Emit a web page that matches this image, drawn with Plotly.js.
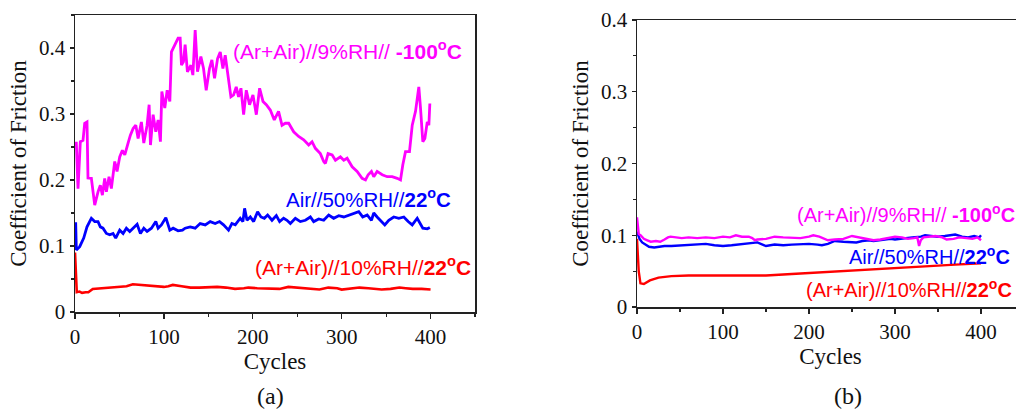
<!DOCTYPE html>
<html>
<head>
<meta charset="utf-8">
<script src="https://cdn.plot.ly/plotly-3.0.1.min.js"></script>
<style>
html,body{margin:0;padding:0;background:#fff;overflow:hidden;width:1016px;height:411px;}
#chart{width:1040px;height:411px;}
</style>
</head>
<body>
<div id="chart"></div>
<script>
// ---- Panel (a) data ----
const aMagX = [0,1.5,3.4,6,9,10.9,13.5,14.6,18.4,22.2,25.9,28.5,30.8,33.4,35.3,38.3,40.9,44.7,47.3,50.3,53.3,56,59.7,62.3,65.4,68.4,71,74.7,77.4,81.1,83.4,84.9,87.9,90.9,93.5,96.1,97.7,101,103.7,106.7,108.5,112.3,116,118.3,119.8,122,123.9,126.5,130.4,132.6,135.2,137.8,141.6,144.6,147.6,151.3,154,157,160.4,163.4,166.4,169,171.6,175.4,178.4,181.4,184,186.7,189.7,192.7,196.4,200.2,204,207.7,211.5,215.2,219.7,224.2,229,232.9,236.6,240.4,246,251.6,257.3,262.9,266.7,270.4,276,279.8,281.7,284.7,289.3,293,298.6,302.4,306.1,311.8,317.4,323,326.8,329.8,333.5,336.1,339.9,345.6,351.2,356.8,362.5,366.2,368.8,371.8,376.3,379.4,383.1,386.8,388.7,391.3,393.6,396.3,398.1,399.2];
const aMagY = [0.256,0.256,0.187,0.258,0.26,0.286,0.288,0.203,0.2025,0.162,0.182,0.192,0.177,0.2025,0.182,0.205,0.187,0.228,0.213,0.235,0.245,0.238,0.256,0.268,0.278,0.283,0.263,0.288,0.256,0.283,0.314,0.253,0.299,0.273,0.291,0.258,0.334,0.309,0.336,0.319,0.394,0.405,0.415,0.415,0.374,0.379,0.405,0.364,0.374,0.359,0.427,0.364,0.387,0.369,0.336,0.369,0.382,0.354,0.384,0.394,0.369,0.389,0.364,0.326,0.329,0.341,0.326,0.339,0.299,0.336,0.314,0.329,0.299,0.339,0.319,0.314,0.306,0.291,0.304,0.283,0.286,0.286,0.273,0.266,0.261,0.253,0.258,0.248,0.240,0.228,0.225,0.240,0.238,0.23,0.235,0.23,0.233,0.220,0.213,0.2025,0.2,0.208,0.213,0.205,0.213,0.208,0.205,0.205,0.2025,0.2,0.223,0.243,0.243,0.283,0.304,0.341,0.309,0.258,0.263,0.288,0.283,0.316];
const aBlueX = [0,0.8,1.5,5.3,9.8,13.5,18.4,22.2,25.9,28.5,31.5,35.3,39.1,42.8,45.8,50.3,54.1,57.8,61.6,65.4,69.9,73.6,77.4,81.1,86,90.9,93.5,97.2,102.2,106.7,110.4,116,120.9,123.9,129.6,135.2,140.8,146.5,152.1,157.7,162.6,167.1,172.7,176.5,180.3,185.9,188.9,190.8,193.5,197.2,201,205.4,209.2,213,216.7,221.6,226.5,230.2,234.7,238.5,242.3,247.9,253.5,259.2,264.8,268.5,274.2,279.8,285.4,291,296.7,302.4,308,315.5,319.2,323.7,328.7,333.5,336.1,339.9,344.8,348.5,353,358.6,364.3,369.9,374.8,379.4,385,388.7,391.3,396.3,399.2];
const aBlueY = [0.134,0.134,0.094,0.099,0.112,0.129,0.142,0.137,0.137,0.129,0.127,0.119,0.117,0.119,0.112,0.124,0.119,0.127,0.122,0.127,0.133,0.119,0.127,0.122,0.127,0.137,0.127,0.132,0.143,0.124,0.127,0.123,0.124,0.127,0.129,0.127,0.134,0.132,0.137,0.134,0.137,0.132,0.124,0.134,0.132,0.142,0.137,0.157,0.139,0.144,0.137,0.152,0.144,0.142,0.147,0.139,0.146,0.137,0.142,0.139,0.134,0.142,0.137,0.139,0.144,0.137,0.141,0.139,0.147,0.142,0.146,0.144,0.147,0.150,0.152,0.144,0.147,0.139,0.150,0.144,0.137,0.132,0.139,0.144,0.142,0.144,0.137,0.132,0.142,0.134,0.127,0.126,0.128];
const aRedX = [0,1,2,5,8,12,15,20,30,40,50,58,65,72,80,90,100,105,110,120,130,140,150,160,170,180,190,195,205,220,230,240,250,260,275,285,295,300,310,320,330,345,355,365,372,380,390,400];
const aRedY = [0.09,0.05,0.03,0.031,0.029,0.03,0.03,0.035,0.036,0.037,0.038,0.039,0.042,0.041,0.04,0.039,0.038,0.039,0.041,0.039,0.037,0.037,0.038,0.038,0.037,0.035,0.036,0.037,0.036,0.035,0.035,0.038,0.037,0.035,0.034,0.037,0.036,0.034,0.035,0.037,0.036,0.034,0.035,0.037,0.036,0.035,0.035,0.034];

// ---- Panel (b) data ----
const bMagX = [0,2,4,8,12,16,22,27,32,36,39,45,52,60,70,80,90,100,108,115,122,130,134,137,140,150,160,170,180,190,200,205,212,218,222,230,240,250,258,265,270,275,283,290,300,308,315,322,326,328,330,333,340,347,355,360,368,375,383,390,396,400];
const bMagY = [0.125,0.102,0.1,0.095,0.093,0.091,0.092,0.091,0.094,0.097,0.098,0.097,0.096,0.097,0.096,0.097,0.096,0.098,0.097,0.1,0.098,0.098,0.096,0.093,0.094,0.095,0.098,0.097,0.096,0.096,0.098,0.1,0.098,0.095,0.093,0.094,0.095,0.099,0.097,0.096,0.095,0.093,0.094,0.096,0.098,0.097,0.095,0.096,0.097,0.085,0.093,0.097,0.098,0.099,0.097,0.094,0.095,0.097,0.096,0.095,0.097,0.093];
const bBlueX = [0,3,6,10,14,20,26,32,40,50,60,70,80,90,100,110,120,130,140,146,150,160,170,180,190,200,210,215,222,230,240,250,255,262,270,275,285,295,300,310,320,330,335,342,350,358,365,370,378,385,392,398,400];
const bBlueY = [0.105,0.095,0.09,0.087,0.084,0.083,0.084,0.085,0.085,0.086,0.087,0.087,0.088,0.086,0.085,0.086,0.087,0.088,0.09,0.087,0.085,0.087,0.086,0.087,0.088,0.088,0.087,0.086,0.088,0.092,0.091,0.090,0.090,0.092,0.093,0.092,0.094,0.095,0.094,0.096,0.097,0.098,0.1,0.099,0.098,0.099,0.1,0.101,0.098,0.097,0.099,0.097,0.1];
const bRedX = [0,2,4,8,15,25,40,60,100,150,180,220,260,300,340,370,400];
const bRedY = [0.095,0.05,0.033,0.032,0.037,0.041,0.043,0.044,0.044,0.044,0.046,0.049,0.052,0.055,0.057,0.059,0.061];

const yTicks = [0,0.1,0.2,0.3,0.4];
const yTickText = ['0','0.1','0.2','0.3','0.4'];
const xTicks = [0,100,200,300,400];

const labels = {
  mag: '(Ar+Air)//9%RH// <b>-100<sup>o</sup>C</b>',
  blue: 'Air//50%RH//<b>22<sup>o</sup>C</b>',
  red: '(Ar+Air)//10%RH//<b>22<sup>o</sup>C</b>'
};

const MAG = '#ff00ff', BLUE = '#0000ff', RED = '#ff0000';
const W = 1040, H = 411;

function tr(x, y, color, w, xa, ya) {
  return {x: x, y: y, type: 'scatter', mode: 'lines', line: {color: color, width: w},
          xaxis: xa, yaxis: ya, hoverinfo: 'skip', showlegend: false};
}
const data = [
  tr(aRedX, aRedY, RED, 2.6, 'x', 'y'),
  tr(aBlueX, aBlueY, BLUE, 2.8, 'x', 'y'),
  tr(aMagX, aMagY, MAG, 2.8, 'x', 'y'),
  tr(bRedX, bRedY, RED, 2.4, 'x2', 'y2'),
  tr(bBlueX, bBlueY, BLUE, 2.4, 'x2', 'y2'),
  tr(bMagX, bMagY, MAG, 2.4, 'x2', 'y2')
];

const SERIF = "'Liberation Serif', 'Times New Roman', serif";
const SANS = "'Liberation Sans', Arial, sans-serif";
const tickFont = {family: SERIF, size: 21, color: '#111'};
const titleFont = {family: SERIF, size: 23, color: '#111'};

function xax(domain, range) {
  return {domain: domain, range: range, showline: true, linecolor: '#222', linewidth: 1.5, mirror: true,
    ticks: 'outside', ticklen: 5, tickwidth: 1.3, tickcolor: '#222', tickvals: xTicks,
    tickfont: tickFont, showgrid: false, zeroline: false,
    minor: {dtick: 50, ticks: 'outside', ticklen: 3, tickwidth: 1.2, tickcolor: '#222', showgrid: false},
    title: {text: 'Cycles', font: titleFont, standoff: 4}};
}
function yax(domain, range, anchor) {
  return {domain: domain, range: range, anchor: anchor, showline: true, linecolor: '#222', linewidth: 1.5, mirror: true,
    ticks: 'outside', ticklen: 4, tickwidth: 1.3, tickcolor: '#222', tickvals: yTicks, ticktext: yTickText,
    tickfont: tickFont, showgrid: false, zeroline: false,
    minor: {dtick: 0.05, ticks: 'outside', ticklen: 3, tickwidth: 1.2, tickcolor: '#222', showgrid: false},
    title: {text: 'Coefficient of Friction', font: titleFont, standoff: 6}};
}

function ann(text, px, py, color, size) {
  return {text: text, xref: 'paper', yref: 'paper', x: px / W, y: 1 - py / H,
          xanchor: 'left', yanchor: 'middle', showarrow: false,
          font: {family: SANS, size: size, color: color}};
}

const layout = {
  width: W, height: H,
  margin: {l: 0, r: 0, t: 0, b: 0},
  paper_bgcolor: '#fff', plot_bgcolor: '#fff',
  showlegend: false,
  xaxis: Object.assign(xax([75 / W, 475 / W], [0, 450]), {anchor: 'y'}),
  yaxis: yax([1 - 312 / H, 1 - 15 / H], [0, 0.45], 'x'),
  xaxis2: Object.assign(xax([637 / W, 1024 / W], [0, 450]), {anchor: 'y2'}),
  yaxis2: yax([1 - 307 / H, 1 - 20 / H], [0, 0.4], 'x2'),
  annotations: [
    ann(labels.mag, 231, 50, MAG, 21),
    ann(labels.blue, 284, 198, BLUE, 20.5),
    ann(labels.red, 253, 266, RED, 21),
    ann(labels.mag, 795, 213, MAG, 20),
    ann(labels.blue, 847, 255, BLUE, 20),
    ann(labels.red, 804, 288, RED, 20),
    {text: '(a)', xref: 'paper', yref: 'paper', x: 270 / W, y: 1 - 396 / H, xanchor: 'center', yanchor: 'middle',
     showarrow: false, font: {family: SERIF, size: 24, color: '#111'}},
    {text: '(b)', xref: 'paper', yref: 'paper', x: 848 / W, y: 1 - 396 / H, xanchor: 'center', yanchor: 'middle',
     showarrow: false, font: {family: SERIF, size: 24, color: '#111'}}
  ]
};

Plotly.newPlot('chart', data, layout, {staticPlot: true, displayModeBar: false});
</script>
</body>
</html>
